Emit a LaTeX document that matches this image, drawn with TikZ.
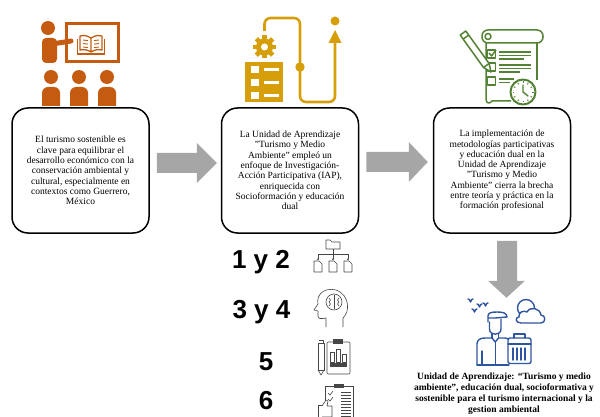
\documentclass[tikz,border=0pt]{standalone}
\usepackage{fontspec}
\setmainfont{Liberation Serif}
\newfontfamily\numfont{Liberation Sans}
\usetikzlibrary{calc,arrows.meta}
\definecolor{orangeic}{RGB}{197,90,17}
\definecolor{goldic}{RGB}{214,158,8}
\definecolor{greenic}{RGB}{84,130,53}
\definecolor{blueic}{RGB}{47,85,160}
\definecolor{arrowgrey}{RGB}{166,166,166}
\definecolor{iconline}{RGB}{70,70,70}
\begin{document}
\begin{tikzpicture}[x=1pt,y=-1pt,
  stagebox/.style={draw=black, line width=1.5pt, rounded corners=16pt,
    minimum width=137pt, minimum height=125pt, align=center, inner sep=0pt,
    font=\fontsize{9.5}{10.3}\selectfont},
  numlbl/.style={font=\numfont\bfseries\fontsize{26}{26}\selectfont, inner sep=0pt},
  captext/.style={align=center, inner sep=0pt, font=\bfseries\fontsize{9.5}{11}\selectfont},
  thinicon/.style={iconline, line width=0.6pt, line join=round}]
\useasboundingbox (0,0) rectangle (600,417);

% ---------- the three stages ----------
\node[stagebox] (b1) at (80.5,170.5) {El turismo sostenible es\\clave para equilibrar el\\desarrollo económico con la\\conservación ambiental y\\cultural, especialmente en\\contextos como Guerrero,\\México};
\node[stagebox] (b2) at (290,170.5) {La Unidad de Aprendizaje\\"Turismo y Medio\\Ambiente" empleó un\\enfoque de Investigación-\\Acción Participativa (IAP),\\enriquecida con\\Socioformación y educación\\dual};
\node[stagebox] (b3) at (502,170.5) {La implementación de\\metodologías participativas\\y educación dual en la\\Unidad de Aprendizaje\\"Turismo y Medio\\Ambiente" cierra la brecha\\entre teoría y práctica en la\\formación profesional};

% ---------- block arrows ----------
\fill[arrowgrey] ($(b1.east)+(7,-17.5)$) -- ($(b2.west)+(-24,-17.5)$) -- ($(b2.west)+(-24,-27.5)$)
  -- ($(b2.west)+(-4,-7.5)$) -- ($(b2.west)+(-24,12.5)$) -- ($(b2.west)+(-24,2.5)$)
  -- ($(b1.east)+(7,2.5)$) -- cycle;
\fill[arrowgrey] ($(b2.east)+(7,-18.5)$) -- ($(b3.west)+(-24,-18.5)$) -- ($(b3.west)+(-24,-28.5)$)
  -- ($(b3.west)+(-5,-8.5)$) -- ($(b3.west)+(-24,11.5)$) -- ($(b3.west)+(-24,1.5)$)
  -- ($(b2.east)+(7,1.5)$) -- cycle;
\fill[arrowgrey] ($(b3.south)+(-5,7)$) -- ($(b3.south)+(15,7)$) -- ($(b3.south)+(15,47)$)
  -- ($(b3.south)+(23,47)$) -- ($(b3.south)+(4.5,64)$) -- ($(b3.south)+(-14,47)$)
  -- ($(b3.south)+(-5,47)$) -- cycle;

% ---------- teacher icon ----------
\begin{scope}[orangeic]
  \draw[line width=3pt] (66,24) rectangle (118,62);
  \draw[line width=1.3pt, line join=round] (91,38) .. controls (86,35) and (83,35) .. (80,36) -- (80,50)
     .. controls (84,49) and (88,50) .. (91,52) .. controls (94,50) and (98,49) .. (102,50) -- (102,36)
     .. controls (99,35) and (96,35) .. (91,38) -- (91,52);
  \draw[line width=1.2pt] (77.5,39) -- (77.5,54) -- (104.5,54) -- (104.5,39);
  \foreach \yy in {40,43.5,47} {
    \draw[line width=0.9pt] (83,\yy) -- (88,\yy+0.6);
    \draw[line width=0.9pt] (94,\yy+0.6) -- (99,\yy);
  }
  \fill (48,28) circle (7);
  \fill[rounded corners=4] (42,63) -- (42,38) -- (57,38) -- (57,63) -- cycle;
  \draw[line width=5pt, line cap=round] (52,44) -- (71,41);
  \foreach \cx in {51,79,107} {
    \fill (\cx,77) circle (7);
    \fill (\cx-9,106) {[rounded corners=6] -- (\cx-9,87) -- (\cx+9,87)} -- (\cx+9,106) -- cycle;
  }
\end{scope}

% ---------- process icon ----------
\begin{scope}[goldic]
  \fill (245,62) rectangle (283,102);
  \foreach \yy in {69.5,82.5,95.5} {
    \fill[white] (251,\yy-3.5) rectangle (259,\yy+3.5);
    \fill[white] (264,\yy-1.5) rectangle (279,\yy+1.5);
  }
  \fill (264.5,47) circle (8.5);
  \foreach \a in {0,45,...,315}
    \fill[rotate around={\a:(264.5,47)}] (262.2,35.5) rectangle (266.8,40);
  \fill[white] (264.5,47) circle (3.5);
  \draw[line width=2.6pt, rounded corners=6] (264.5,31) -- (264.5,18) -- (300,18) -- (300,102) -- (335,102) -- (335,41);
  \fill (300,67) circle (4.7);
  \fill (335,21) circle (4.5);
  \fill (328.5,43) -- (335,30) -- (341.5,43) -- cycle;
\end{scope}

% ---------- checklist icon ----------
\begin{scope}[greenic, line width=1.5pt, line join=round]
  \draw[rounded corners=6] (482,30) rectangle (543,43);
  \draw (488,36.5) circle (3);
  \draw (486,43) -- (486,99) .. controls (486,104) and (490,104) .. (492,101) -- (511,101);
  \draw (537,43) -- (537,80);
  \draw (487.5,50) rectangle (495.5,58);
  \draw (487.5,63) rectangle (495.5,71);
  \draw (487.5,77) rectangle (495.5,85);
  \draw (489,53) -- (491.5,56) -- (496,50);
  \draw (499,52) -- (531,52);  \draw (499,55.5) -- (531,55.5); \draw (499,59) -- (524,59);
  \draw (499,65) -- (531,65);  \draw (499,68.5) -- (531,68.5); \draw (499,72) -- (520,72);
  \draw (499,79) -- (514,79);  \draw (499,82.5) -- (510,82.5);
  \draw[fill=white] (465.8,31.0) -- (489.1,63.5) -- (491,72) -- (483.5,67.5) -- (460.2,35.0) -- cycle;
  \draw (463.1,39.1) -- (468.7,35.1);
  \draw (483.5,67.5) -- (489.1,63.5);
  \draw[fill=white, line width=2pt] (523,92) circle (12.5);
  \foreach \a in {0,30,...,330}
    \draw[line width=0.9pt] ($(523,92)+(\a:8.8)$) -- ($(523,92)+(\a:10.5)$);
  \draw[line width=1.4pt, line cap=round] (523,85) -- (523,92) -- (528,96);
\end{scope}

% ---------- traveller icon ----------
\begin{scope}[blueic, line width=1.4pt, line join=round, line cap=round]
  \draw (468,299) .. controls (469.5,299.5) .. (470.5,302) .. controls (471.5,299.5) .. (473,299);
  \draw (477,304) .. controls (478.5,304.5) .. (479.5,307) .. controls (480.5,304.5) .. (482,304);
  \draw (472,309) .. controls (473.5,309.5) .. (474.5,312) .. controls (475.5,309.5) .. (477,309);
  \draw (483,303) .. controls (484.5,303.5) .. (485.5,306) .. controls (486.5,303.5) .. (488,303);
  \draw (526,308) circle (8.5);
  \draw[fill=white] (521,323) -- (541,323) .. controls (546,323) and (546,315) .. (541,315)
     .. controls (540,308) and (530,306) .. (527,312) .. controls (524,310) and (518,312) .. (519,317)
     .. controls (515,317) and (515,323) .. (521,323) -- cycle;
  \draw (488,322) -- (488,316) .. controls (488,313) and (491,312) .. (497,312)
     .. controls (503,312) and (507,313) .. (507,317) -- (495,318) -- (488,318);
  \draw (489.5,322) -- (489.5,329) .. controls (489.5,336) and (501,336) .. (501,329) -- (501,319);
  \draw (492,334) -- (492,338);  \draw (498.5,334) -- (498.5,338);
  \draw (477,365) -- (477,344) .. controls (477,340) and (480,338) .. (485,338) -- (492,338)
     -- (495.2,342) -- (498.5,338) -- (505,338) -- (509,339);
  \draw (477,365) -- (509,365);
  \draw (495.2,342) -- (495.2,365);
  \draw (482,351) -- (482,365);
  \draw[fill=white, rounded corners=2] (508,338) rectangle (531,363.5);
  \draw (514,338) -- (514,334) -- (525,334) -- (525,338);
  \draw (508,344) -- (531,344);
  \foreach \xx in {513,517,521,525} \draw (\xx,348) -- (\xx,360);
\end{scope}

% ---------- step numbers ----------
\node[numlbl] (n12) at (261,262) {1 y 2};
\node[numlbl] (n34) at (261.5,312) {3 y 4};
\node[numlbl] (n5) at (266,362) {5};
\node[numlbl] (n6) at (266,401) {6};

% ---------- small line icons ----------
\begin{scope}[thinicon]
  % hierarchy
  \draw (326,240) -- (330,240) -- (332,242) -- (340,242) -- (340,249) -- (326,249) -- cycle;
  \draw (333,249) -- (333,254);
  \draw (318,254) -- (348,254);
  \foreach \xx in {318,333,348}
    \draw[-{Stealth[length=2pt,width=2pt]}] (\xx,254) -- (\xx,260.5);
  \foreach \xx in {314,329,344}
    \draw (\xx,261) -- (\xx,272) -- (\xx+8,272) -- (\xx+8,264) -- (\xx+5,261) -- cycle;
  % head with brain
  \draw (343,327) -- (343,318) .. controls (350,312) and (350,295) .. (336,290)
     .. controls (324,287) and (316,295) .. (318,304) -- (314,310) -- (318,311) -- (318,316)
     .. controls (318,319) and (321,319) .. (326,318) -- (326,327);
  \draw (334,302) circle (8);
  \draw (334,295) -- (334,309);
  \draw (329,298) .. controls (331,300) .. (329,302) .. controls (331,304) .. (329,306);
  \draw (339,298) .. controls (337,300) .. (339,302) .. controls (337,304) .. (339,306);
  % clipboard with pencil
  \draw (318,343) rectangle (324,370);
  \draw (318,370) -- (321,375) -- (324,370);
  \draw (319,340) -- (323,340) -- (323,343);
  \draw[rounded corners=1] (327,342) rectangle (350,374);
  \fill[iconline] (333,339) rectangle (343,344);
  \draw (330,352) rectangle (334,362);
  \draw (336,349) rectangle (340,362);
  \draw (342,354) rectangle (346,362);
  \fill[iconline] (330,363) rectangle (347,367);
  % checklist with thumb
  \draw (325,386) -- (325,417);
  \draw (353,386) -- (353,417);
  \draw (325,386) -- (353,386);
  \fill[iconline] (334,384) rectangle (344,388);
  \draw (328,393) -- (330,395) -- (333,391);
  \draw (328,399) -- (330,401) -- (333,397);
  \foreach \yy in {392,395,398,401,404,407,410,413,416}
    \draw[line width=1pt] (341,\yy) -- (351,\yy);
  \draw[fill=white] (318,405) rectangle (322,417);
  \draw[fill=white] (322,406) -- (326,400) -- (328,401) -- (327,406) -- (332,406) -- (332,417) -- (322,417);
\end{scope}

% ---------- caption ----------
\node[captext] (cap) at (504,394) {Unidad de Aprendizaje: “Turismo y medio\\ambiente”, educación dual, socioformativa y\\sostenible para el turismo internacional y la\\gestion ambiental};
\end{tikzpicture}
\end{document}
